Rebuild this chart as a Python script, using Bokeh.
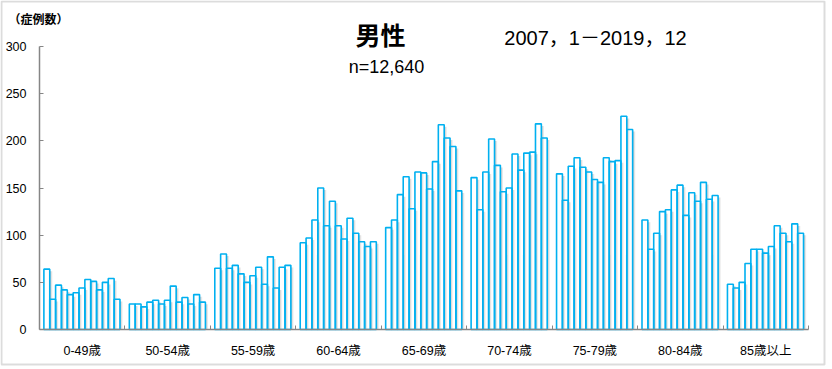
from bokeh.plotting import figure
from bokeh.models import Range1d, FixedTicker, Label, BoxAnnotation
from bokeh.embed import file_html
from bokeh.resources import INLINE

# ---- data ----
age_groups = ["0-49歳", "50-54歳", "55-59歳", "60-64歳", "65-69歳",
              "70-74歳", "75-79歳", "80-84歳", "85歳以上"]
years = list(range(2007, 2020))

cases_0_49 = [64, 32, 47, 42, 37, 39, 44, 53, 51, 42, 50, 54, 32]
cases_50_54 = [27, 27, 24, 29, 31, 27, 31, 46, 29, 34, 27, 37, 29]
cases_55_59 = [65, 80, 65, 68, 59, 50, 57, 66, 48, 77, 44, 66, 68]
cases_60_64 = [92, 97, 116, 150, 110, 136, 110, 96, 118, 102, 93, 88, 93]
cases_65_69 = [108, 116, 143, 162, 128, 167, 166, 149, 178, 217, 203, 194, 147]
cases_70_74 = [161, 127, 167, 202, 174, 146, 150, 186, 169, 187, 188, 218, 203]
cases_75_79 = [165, 137, 173, 182, 172, 167, 159, 156, 182, 178, 179, 226, 212]
cases_80_84 = [116, 85, 102, 125, 127, 148, 153, 121, 145, 136, 156, 138, 142]
cases_85_up = [48, 44, 50, 70, 85, 85, 81, 88, 110, 102, 93, 112, 102]

counts = [cases_0_49, cases_50_54, cases_55_59, cases_60_64, cases_65_69,
          cases_70_74, cases_75_79, cases_80_84, cases_85_up]

y_ticks = [0, 50, 100, 150, 200, 250, 300]
title_text = "男性"
n_text = "n=12,640"
period_text = "2007，1－2019，12"
unit_text = "（症例数）"

# ---- layout of bars on a numeric axis ----
G = 14.6      # width of one age group in bar units
OFF = 0.75    # padding before first bar in a group
n_groups = len(age_groups)
X_END = n_groups * G

xs, tops = [], []
for g, vals in enumerate(counts):
    for j, v in enumerate(vals):
        xs.append(g * G + OFF + j + 0.5)
        tops.append(v)

BLUE = "#00B0F0"
GRAY = "#868686"
LAT = "Liberation Sans, Noto Sans CJK JP"
CJK = "Noto Sans CJK JP"

W, H = 826, 366
AX_L, AX_R = 39.0, 808.0         # pixel positions of x = 0 and x = X_END
AX_B = 329.0                     # pixel position of y = 0
X_PPU = (AX_R - AX_L) / X_END
Y_PPU = 283.0 / 300.0

x_start = -AX_L / X_PPU
x_end = X_END + (W - AX_R) / X_PPU
y_start = -(H - AX_B) / Y_PPU
y_end = AX_B / Y_PPU

p = figure(width=W, height=H,
           x_range=Range1d(x_start, x_end), y_range=Range1d(y_start, y_end),
           output_backend="svg", toolbar_location=None,
           min_border_left=0, min_border_right=0,
           min_border_top=0, min_border_bottom=0)
p.outline_line_color = None
p.xgrid.visible = False
p.ygrid.visible = False
p.background_fill_color = "white"
p.border_fill_color = "white"

# bar fills
p.vbar(x=xs, top=tops, width=1.0, bottom=0, fill_color="white", line_color=None)

# soft shadows at the right of each bar
for dx_, a in [(0.0, 0.5), (0.15, 0.3), (0.30, 0.15)]:
    p.quad(left=[x + 0.5 + dx_ for x in xs], right=[x + 0.5 + dx_ + 0.15 for x in xs],
           bottom=0, top=[t - 2.2 for t in tops],
           fill_color="#7f7f7f", fill_alpha=a, line_color=None)

# bar outlines
p.vbar(x=xs, top=tops, width=1.0, bottom=0, fill_color=None,
       line_color=BLUE, line_width=1.6)

# ---- axes (fixed inside the full-size frame) ----
p.yaxis.fixed_location = 0
p.yaxis.ticker = FixedTicker(ticks=y_ticks)
p.yaxis.bounds = (0, 300)
p.yaxis.major_tick_in = 4
p.yaxis.major_tick_out = 0
p.yaxis.minor_tick_line_color = None
p.yaxis.axis_line_color = GRAY
p.yaxis.major_tick_line_color = GRAY
p.yaxis.major_label_standoff = 13
p.yaxis.major_label_text_font = LAT
p.yaxis.major_label_text_font_size = "12.5px"
p.yaxis.major_label_text_color = "black"
p.yaxis.axis_line_width = 1.5

centers = [round(g * G + G / 2, 3) for g in range(n_groups)]
bounds = [round(g * G, 3) for g in range(1, n_groups + 1)]
p.xaxis.fixed_location = 0
p.xaxis.ticker = FixedTicker(ticks=centers, minor_ticks=bounds)
p.xaxis.bounds = (0, X_END)
p.xaxis.major_label_overrides = {c: lab for c, lab in zip(centers, age_groups)}
p.xaxis.major_tick_line_color = None
p.xaxis.minor_tick_in = 4
p.xaxis.minor_tick_out = 0
p.xaxis.minor_tick_line_color = GRAY
p.xaxis.axis_line_color = GRAY
p.xaxis.axis_line_width = 1.5
p.xaxis.major_label_standoff = 8
p.xaxis.major_label_text_font = LAT
p.xaxis.major_label_text_font_size = "12.5px"
p.xaxis.major_label_text_color = "black"

# ---- texts ----
def dx(pix):
    return (pix - AX_L) / X_PPU

def dy(pix):
    return (AX_B - pix) / Y_PPU

p.add_layout(Label(x=8, y=17.5, x_units="canvas", y_units="canvas",
                   text=unit_text, text_font=CJK,
                   text_font_style="bold", text_font_size="12px",
                   text_baseline="middle", text_align="left", text_color="black"))
p.add_layout(Label(x=dx(380), y=dy(33), text=title_text, text_font=CJK,
                   text_font_style="bold", text_font_size="25px",
                   text_baseline="middle", text_align="center", text_color="black"))
p.add_layout(Label(x=dx(386), y=dy(66), text=n_text, text_font=LAT,
                   text_font_size="18px",
                   text_baseline="middle", text_align="center", text_color="black"))
p.add_layout(Label(x=dx(595), y=dy(37), text=period_text, text_font=LAT,
                   text_font_size="20px",
                   text_baseline="middle", text_align="center", text_color="black"))

# outer border of the chart
p.add_layout(BoxAnnotation(left=1, right=824, top=1, bottom=364,
                           left_units="canvas", right_units="canvas",
                           top_units="canvas", bottom_units="canvas",
                           fill_color=None, fill_alpha=0,
                           line_color="#8c8c8c", line_width=2))

open("out.html", "w").write(file_html(p, INLINE))
